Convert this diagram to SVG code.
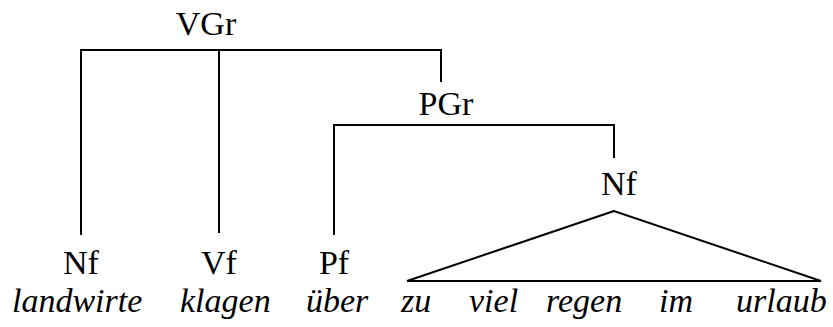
<svg xmlns="http://www.w3.org/2000/svg" width="833" height="327" viewBox="0 0 833 327">
<style>
.t{font-family:'Liberation Serif',serif;font-size:34px;fill:#000}
.lab{text-anchor:middle}
.w{font-style:italic}
.c{fill:none;stroke:#000;stroke-width:2}
</style>
<rect width="833" height="327" fill="#fff"/>
<g id="connectors">
<polyline class="c" points="81,235 81,50 441,50 441,82"/>
<line class="c" x1="219" y1="50" x2="219" y2="233"/>
<polyline class="c" points="334,235 334,125 614,125 614,158"/>
<polygon class="c" points="614,211 407,281 821,281"/>
</g>
<g id="VGr"><text class="t lab" x="206" y="35">VGr</text></g>
<g id="PGr"><text class="t lab" x="446" y="115">PGr</text></g>
<g id="Nf2"><text class="t lab" x="619" y="195">Nf</text></g>
<g id="Nf1"><text class="t lab" x="81" y="274">Nf</text></g>
<g id="Vf"><text class="t lab" x="219" y="274">Vf</text></g>
<g id="Pf"><text class="t lab" x="334" y="274">Pf</text></g>
<g id="words">
<text class="t w" x="12" y="312">landwirte</text>
<text class="t w" x="180" y="312">klagen</text>
<text class="t w" x="306" y="312">über</text>
<text class="t w" x="401" y="312">zu</text>
<text class="t w" x="469" y="312">viel</text>
<text class="t w" x="546" y="312">regen</text>
<text class="t w" x="659" y="312">im</text>
<text class="t w" x="736" y="312">urlaub</text>
</g>
</svg>
